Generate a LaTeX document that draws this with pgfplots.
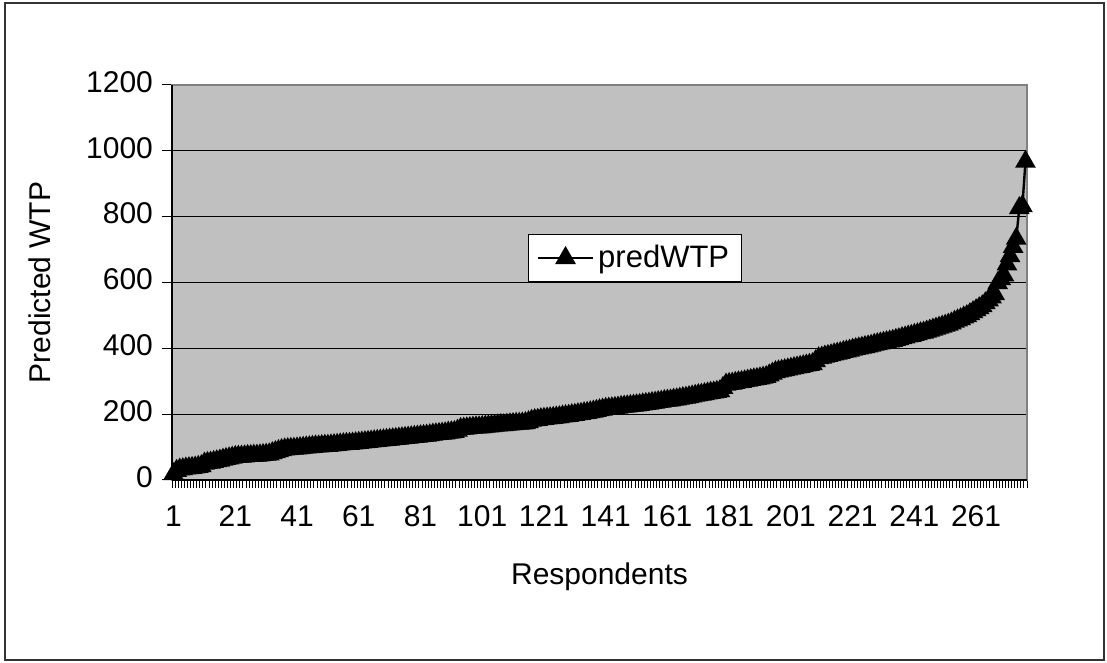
\documentclass[border=0pt]{standalone}
\usepackage{fontspec}
\setmainfont{Liberation Sans}
\usepackage{pgfplots}
\usepackage{pgfplotstable}
\pgfplotsset{compat=1.18}
\definecolor{bgray}{RGB}{192,192,192}
\definecolor{framegray}{RGB}{128,128,128}
\pgfplotstableread{
r v
1 18
2 28
3 32
4 33
5 35
6 36
7 37
8 38
9 40
10 42
11 50
12 52
13 53
14 55
15 57
16 59
17 62
18 64
19 66
20 68
21 70
22 71
23 71
24 72
25 73
26 73
27 74
28 74
29 75
30 76
31 77
32 78
33 82
34 85
35 88
36 91
37 93
38 94
39 95
40 95
41 96
42 97
43 98
44 99
45 100
46 101
47 102
48 102
49 103
50 104
51 104
52 105
53 106
54 107
55 108
56 109
57 110
58 110
59 111
60 112
61 113
62 114
63 115
64 116
65 117
66 118
67 119
68 120
69 121
70 122
71 123
72 124
73 125
74 126
75 127
76 128
77 129
78 130
79 131
80 132
81 133
82 134
83 135
84 136
85 138
86 139
87 140
88 141
89 142
90 144
91 145
92 146
93 150
94 155
95 156
96 157
97 158
98 159
99 160
100 160
101 161
102 162
103 163
104 164
105 165
106 166
107 167
108 167
109 168
110 169
111 170
112 171
113 171
114 172
115 173
116 176
117 180
118 182
119 183
120 185
121 186
122 187
123 188
124 189
125 190
126 191
127 193
128 194
129 195
130 197
131 198
132 200
133 201
134 203
135 204
136 206
137 208
138 210
139 212
140 214
141 216
142 217
143 218
144 219
145 220
146 222
147 223
148 224
149 225
150 226
151 227
152 228
153 230
154 231
155 232
156 234
157 235
158 237
159 238
160 240
161 241
162 242
163 244
164 245
165 247
166 249
167 250
168 252
169 254
170 256
171 258
172 259
173 261
174 263
175 265
176 266
177 268
178 270
179 280
180 290
181 292
182 293
183 295
184 297
185 298
186 300
187 302
188 304
189 306
190 307
191 309
192 311
193 313
194 318
195 323
196 328
197 330
198 332
199 334
200 336
201 338
202 340
203 342
204 344
205 346
206 348
207 350
208 352
209 361
210 370
211 372
212 375
213 377
214 379
215 382
216 384
217 386
218 389
219 391
220 393
221 396
222 398
223 400
224 402
225 404
226 406
227 408
228 411
229 413
230 415
231 417
232 419
233 421
234 423
235 426
236 428
237 431
238 433
239 436
240 438
241 441
242 443
243 446
244 448
245 451
246 454
247 457
248 460
249 463
250 466
251 469
252 472
253 476
254 481
255 485
256 489
257 494
258 498
259 504
260 510
261 516
262 522
263 528
264 537
265 546
266 555
267 565
268 598
269 610
270 622
271 655
272 680
273 708
274 733
275 826
276 832
277 967
}\wtp
\begin{document}
\begin{tikzpicture}[x=1pt,y=1pt]
\useasboundingbox (0,0) rectangle (553.5,331.5);
\draw[line width=1pt, black!80] (2.5,1.5) rectangle (552,330);
\begin{axis}[
  at={(86pt,91.5pt)}, anchor=south west,
  width=427.5pt, height=197.5pt, scale only axis,
  xmin=0.5, xmax=277.5, ymin=0, ymax=1200,
  axis background/.style={fill=bgray},
  axis line style={draw=framegray, line width=1pt},
  ytick={0,200,...,1200},
  xtick={1,21,...,261},
  minor xtick={0.5,1.5,...,277.5},
  xtick pos=bottom, ytick pos=left,
  tick align=outside,
  major tick length=5pt,
  minor tick length=4pt,
  major x tick style={draw=none},
  minor x tick style={draw=black, line width=0.5pt},
  major y tick style={draw=black, line width=0.5pt},
  ymajorgrids,
  major grid style={black, line width=0.5pt},
  tick label style={font=\fontsize{15}{18}\selectfont},
  typeset ticklabels with strut,
  yticklabel style={xshift=-1pt},
  xticklabel style={yshift=-2pt},
  label style={font=\fontsize{15}{18}\selectfont},
  xlabel={Respondents},
  ylabel={Predicted WTP},
  xlabel style={at={(axis description cs:0.5,-0.2456)}, anchor=center},
  ylabel style={at={(axis description cs:-0.1544,0.5)}, anchor=center},
  /pgf/number format/assume math mode=true,
  /pgf/number format/1000 sep={},
  legend style={at={(axis description cs:0.5415,0.562)}, anchor=center,
    draw=black, fill=white, line width=0.5pt, font=\fontsize{15.5}{18}\selectfont,
    inner xsep=4pt, inner ysep=3.5pt},
  legend image code/.code={\draw[mark repeat=2,mark phase=2] plot coordinates {(0pt,0pt) (13.75pt,0pt) (27.5pt,0pt)};},
  clip=false,
]
\addplot[black, line width=1.2pt, mark=triangle*, mark size=4.8pt, mark options={solid, fill=black}] table[x=r, y=v] {\wtp};
\addlegendentry{predWTP}
\draw[black, line width=1pt] (rel axis cs:0,0) -- (rel axis cs:0,1);
\draw[black, line width=1pt] (rel axis cs:0,0) -- (rel axis cs:1,0);
\end{axis}
\end{tikzpicture}
\end{document}
